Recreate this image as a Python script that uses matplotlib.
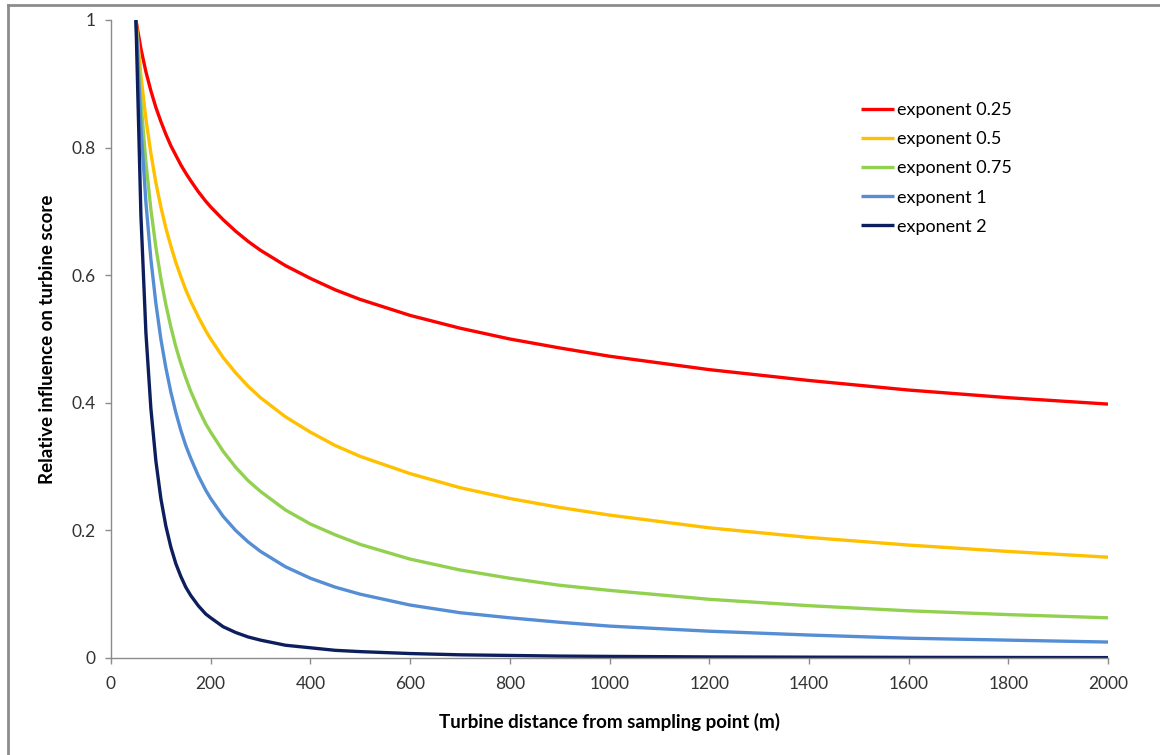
import matplotlib.pyplot as plt
from matplotlib.lines import Line2D

# distances (m) and relative influence
distance = [50, 60, 70, 80, 90, 100, 110, 120, 130, 140, 150, 160, 175, 190,
            200, 225, 250, 275, 300, 350, 400, 450, 500, 600, 700, 800, 900,
            1000, 1200, 1400, 1600, 1800, 2000]

exp_025 = [1.0, 0.955, 0.919, 0.889, 0.863, 0.841, 0.821, 0.803, 0.788, 0.773,
           0.760, 0.748, 0.731, 0.716, 0.707, 0.687, 0.669, 0.653, 0.639,
           0.615, 0.595, 0.577, 0.562, 0.537, 0.517, 0.500, 0.486, 0.473,
           0.452, 0.435, 0.420, 0.408, 0.398]
exp_05 = [1.0, 0.913, 0.845, 0.791, 0.745, 0.707, 0.674, 0.646, 0.620, 0.598,
          0.577, 0.559, 0.535, 0.513, 0.500, 0.471, 0.447, 0.426, 0.408,
          0.378, 0.354, 0.333, 0.316, 0.289, 0.267, 0.250, 0.236, 0.224,
          0.204, 0.189, 0.177, 0.167, 0.158]
exp_075 = [1.0, 0.872, 0.777, 0.703, 0.644, 0.595, 0.554, 0.519, 0.488, 0.462,
           0.439, 0.418, 0.391, 0.367, 0.354, 0.324, 0.299, 0.278, 0.261,
           0.232, 0.210, 0.193, 0.178, 0.155, 0.138, 0.125, 0.114, 0.106,
           0.092, 0.082, 0.074, 0.068, 0.063]
exp_1 = [1.0, 0.833, 0.714, 0.625, 0.556, 0.500, 0.455, 0.417, 0.385, 0.357,
         0.333, 0.313, 0.286, 0.263, 0.250, 0.222, 0.200, 0.182, 0.167,
         0.143, 0.125, 0.111, 0.100, 0.083, 0.071, 0.063, 0.056, 0.050,
         0.042, 0.036, 0.031, 0.028, 0.025]
exp_2 = [1.0, 0.694, 0.510, 0.391, 0.309, 0.250, 0.207, 0.174, 0.148, 0.128,
         0.111, 0.098, 0.082, 0.069, 0.063, 0.049, 0.040, 0.033, 0.028,
         0.020, 0.016, 0.012, 0.010, 0.007, 0.005, 0.004, 0.003, 0.0025,
         0.0017, 0.0013, 0.0010, 0.0008, 0.0006]

labels = ["exponent 0.25", "exponent 0.5", "exponent 0.75", "exponent 1", "exponent 2"]
series = [exp_025, exp_05, exp_075, exp_1, exp_2]
colors = ["#FF0000", "#FFC000", "#92D050", "#558ED5", "#0C1F5C"]

plt.rcParams["font.family"] = ["Lato", "DejaVu Sans"]

fig = plt.figure(figsize=(11.6, 7.55), dpi=100)
# chart-area border (cropped on the right and bottom)
fig.add_artist(Line2D([8 / 1160, 8 / 1160], [0, 1 - 5 / 755], transform=fig.transFigure,
                      color="#8c8c8c", lw=2))
fig.add_artist(Line2D([8 / 1160, 1], [1 - 5 / 755, 1 - 5 / 755], transform=fig.transFigure,
                      color="#8c8c8c", lw=2))

ax = fig.add_axes([111 / 1160, 1 - 658 / 755, (1108 - 111) / 1160, (658 - 20) / 755])
for vals, lab, col in zip(series, labels, colors):
    ax.plot(distance, vals, color=col, lw=2.4, label=lab, solid_capstyle="butt")

ax.set_xlim(0, 2000)
ax.set_ylim(0, 1)
ax.set_xticks(range(0, 2001, 200))
ax.set_yticks([0, 0.2, 0.4, 0.6, 0.8, 1.0])
ax.set_yticklabels(["0", "0.2", "0.4", "0.6", "0.8", "1"])
for side in ("top", "right"):
    ax.spines[side].set_visible(False)
for side in ("left", "bottom"):
    ax.spines[side].set_color("#8c8c8c")
    ax.spines[side].set_linewidth(1)
ax.tick_params(axis="both", colors="#8c8c8c", labelcolor="#333333", labelsize=12.5,
               length=4, width=1)
ax.tick_params(axis="y", pad=7)
ax.tick_params(axis="x", pad=9)

ax.set_xlabel("Turbine distance from sampling point (m)", fontsize=13.5,
              fontweight="bold", labelpad=15)
ax.set_ylabel("Relative influence on turbine score", fontsize=13.5,
              fontweight="bold", labelpad=11)

ax.legend(loc="upper left", bbox_to_anchor=(852 / 1160, 1 - 93 / 755),
          bbox_transform=fig.transFigure, frameon=False, fontsize=13,
          handlelength=1.8, handletextpad=0.2, labelspacing=0.73, borderpad=0)

fig.savefig("out.png", dpi=100)
